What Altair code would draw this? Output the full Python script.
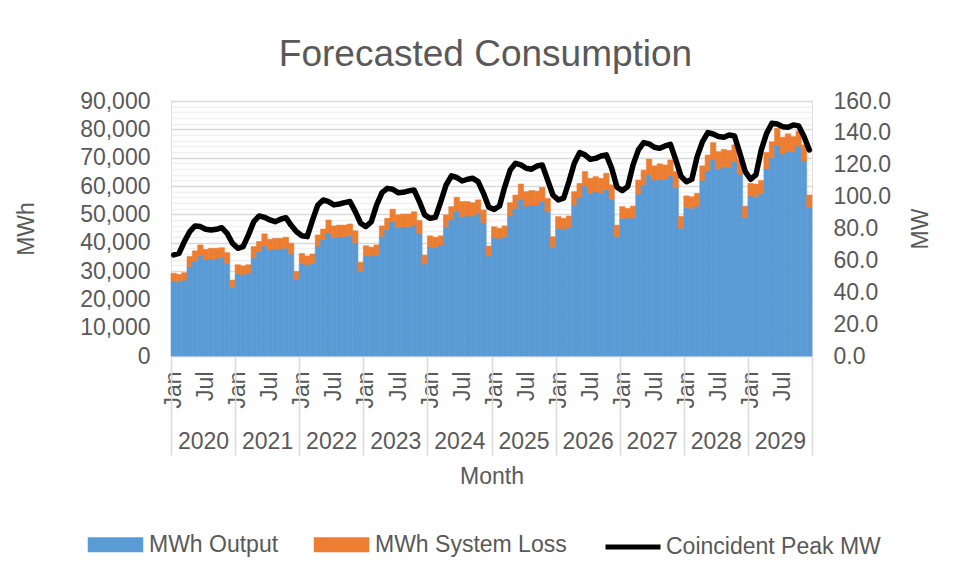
import altair as alt
import pandas as pd

years = [2020, 2021, 2022, 2023, 2024, 2025, 2026, 2027, 2028, 2029]

mwh_output = [
    26500, 26200, 26800, 31500, 33600, 35400, 33900, 34200, 34400, 34800, 32700, 24200,
    29200, 28800, 29400, 34800, 36800, 38900, 37400, 37800, 37800, 38100, 36000, 27100,
    32700, 32100, 32700, 38800, 41200, 43500, 41800, 42100, 42100, 42400, 40000, 30000,
    35300, 35300, 35600, 42100, 44500, 47400, 45300, 45600, 45600, 46200, 43300, 32500,
    38600, 38400, 39200, 45600, 48000, 51200, 49200, 49400, 49400, 50400, 47100, 35300,
    41900, 41500, 42100, 49400, 52100, 55300, 52900, 53300, 53300, 54500, 50900, 38400,
    45100, 44700, 45400, 53300, 56000, 60000, 57400, 58000, 57600, 58800, 55300, 42100,
    48600, 48600, 48900, 57200, 60400, 64100, 62100, 62400, 62400, 63500, 59500, 45100,
    52500, 52100, 52900, 61900, 65400, 69200, 66200, 66800, 66600, 68600, 64200, 48900,
    56500, 56200, 57200, 66200, 70100, 74500, 71300, 72100, 72100, 74100, 68800, 52500,
]

mwh_loss = [
    2700, 2600, 2600, 3600, 3500, 3800, 3700, 3800, 3600, 3400, 3800, 2600,
    3000, 3000, 2800, 3800, 3600, 4200, 3800, 3700, 3700, 3800, 3800, 2700,
    3500, 3200, 3300, 3900, 3600, 4500, 4100, 4100, 4100, 4200, 4200, 3100,
    3600, 3100, 3600, 3800, 4100, 4400, 4500, 4500, 4500, 4700, 4500, 3100,
    3800, 3500, 3200, 4200, 4700, 4800, 5300, 5100, 4700, 4700, 4400, 3500,
    3700, 3600, 3800, 4700, 4700, 5400, 5100, 5100, 4900, 5000, 4700, 3700,
    4100, 3900, 4000, 4700, 4900, 5100, 5300, 5300, 5100, 5700, 5100, 4100,
    4100, 3500, 4000, 4900, 5200, 5400, 5000, 5400, 5000, 5700, 5600, 4100,
    4000, 4100, 4500, 5200, 5500, 6100, 5900, 6100, 5900, 5900, 5200, 4000,
    4400, 4500, 4700, 5600, 5500, 5900, 5900, 6300, 5300, 5300, 5700, 4300,
]

peak_mw = [
    63.4, 64.4, 71.8, 78.0, 81.6, 81.2, 79.5, 79.0, 79.5, 80.5, 77.0, 70.7,
    67.6, 68.6, 76.0, 84.3, 87.9, 87.0, 85.4, 84.3, 85.8, 86.8, 82.0, 78.0,
    75.5, 74.9, 85.4, 94.8, 97.9, 96.9, 94.8, 95.4, 96.2, 96.9, 90.6, 83.3,
    81.2, 84.3, 94.8, 102.5, 105.2, 104.6, 102.5, 102.7, 103.6, 104.2, 96.9, 88.5,
    86.4, 87.0, 96.9, 107.3, 113.0, 112.0, 109.8, 110.9, 111.5, 109.4, 102.1, 93.3,
    92.0, 94.1, 106.3, 116.7, 120.9, 119.9, 117.8, 117.2, 119.2, 119.9, 110.5, 101.0,
    97.9, 99.0, 109.4, 120.9, 127.6, 126.2, 123.4, 124.0, 125.5, 126.2, 117.8, 105.9,
    103.8, 106.3, 119.9, 129.3, 133.9, 133.1, 131.0, 130.3, 131.8, 132.8, 123.0, 112.6,
    109.4, 110.9, 125.1, 134.5, 140.2, 139.3, 137.7, 137.2, 138.7, 138.0, 127.2, 115.7,
    110.9, 113.6, 129.3, 139.7, 146.0, 145.6, 143.9, 143.5, 145.0, 144.4, 137.7, 129.3,
]

series_names = ["MWh Output", "MWh System Loss"]
series_colors = ["#5B9BD5", "#ED7D31"]
line_name = "Coincident Peak MW"

n = len(peak_mw)
rows = []
for i in range(n):
    rows.append({"i": i, "series": series_names[0], "order": 0, "value": mwh_output[i]})
    rows.append({"i": i, "series": series_names[1], "order": 1, "value": mwh_loss[i]})
bars_df = pd.DataFrame(rows)
line_df = pd.DataFrame({"i": list(range(n)), "peak": peak_mw, "name": line_name})

FONT = "Liberation Sans"
TXT = "#595959"
FS = 23

xscale = alt.Scale(domain=[0, n], nice=False, zero=False)

month_ticks = []
for k in range(len(years)):
    month_ticks += [12 * k + 0.5, 12 * k + 6.5]
year_ticks = [12 * k for k in range(len(years) + 1)]

bar_scale = alt.Scale(domain=series_names, range=series_colors)

bars = (
    alt.Chart(bars_df)
    .transform_calculate(x0="datum.i", x1="datum.i + 1")
    .transform_stack(stack="value", groupby=["i"],
                     sort=[alt.SortField("order", order="ascending")],
                     as_=["y0", "y1"])
    .mark_bar(strokeWidth=0.6)
    .encode(
        x=alt.X("x0:Q", scale=xscale, axis=alt.Axis(
            orient="bottom",
            values=month_ticks,
            labelExpr="(datum.value % 12) < 1 ? 'Jan' : 'Jul'",
            labelAngle=270, labelPadding=15, labelFlush=False, labelOverlap=False,
            ticks=False, grid=False, domain=True, domainColor="#D9D9D9", domainWidth=1.5,
            labelFontSize=FS, labelColor=TXT, labelFont=FONT, title=None)),
        x2="x1:Q",
        y=alt.Y("y1:Q", scale=alt.Scale(domain=[0, 90000], nice=False), axis=alt.Axis(
            values=list(range(0, 90001, 2000)),
            labelExpr="datum.value % 10000 === 0 ? format(datum.value, ',') : ''",
            labelOverlap=False, labelPadding=21, ticks=False, domain=False,
            grid=True,
            gridColor={"condition": {"test": "datum.value % 10000 === 0", "value": "#D9D9D9"},
                       "value": "#F0F0F0"},
            gridWidth=1.3,
            labelFontSize=FS, labelColor=TXT, labelFont=FONT,
            title="MWh", titleFontSize=FS, titleColor=TXT, titleFont=FONT,
            titleFontWeight="normal", titleAngle=270, titleBaseline="alphabetic",
            titleX=-138, titleY=127.5)),
        y2="y0:Q",
        color=alt.Color("series:N", scale=bar_scale,
                        legend=alt.Legend(
                            title=None, orient="none", direction="horizontal",
                            legendX=-67, legendY=432,
                            symbolType="M-3.7,-1H3.7V1H-3.7Z", symbolSize=225,
                            symbolStrokeWidth=0, labelOffset=22, columnPadding=34,
                            labelLimit=0,
                            labelFontSize=FS, labelColor=TXT, labelFont=FONT)),
        stroke=alt.Stroke("series:N", scale=bar_scale, legend=None),
    )
)

line = (
    alt.Chart(line_df)
    .transform_calculate(xc="datum.i + 0.5")
    .mark_line(strokeWidth=5.5, strokeJoin="round", strokeCap="round")
    .encode(
        x=alt.X("xc:Q", scale=xscale, axis=alt.Axis(
            orient="bottom",
            values=year_ticks,
            labelExpr="datum.value < 120 ? '' + (2020 + datum.value / 12) : ''",
            labelOffset=32, labelPadding=-14, labelBaseline="middle",
            labelFlush=False, labelOverlap=False,
            ticks=True, tickSize=99, tickColor="#D9D9D9", tickWidth=1.5,
            grid=False, domain=False,
            labelFontSize=FS, labelColor=TXT, labelFont=FONT,
            title="Month", titleFontSize=FS, titleColor=TXT, titleFont=FONT,
            titleFontWeight="normal", titleBaseline="alphabetic", titleY=127)),
        y=alt.Y("peak:Q", scale=alt.Scale(domain=[0, 160], nice=False), axis=alt.Axis(
            orient="right", values=list(range(0, 161, 20)), format=".1f",
            labelPadding=21, ticks=False, domain=False, grid=False,
            labelFontSize=FS, labelColor=TXT, labelFont=FONT,
            title="MW", titleFontSize=FS, titleColor=TXT, titleFont=FONT,
            titleFontWeight="normal", titleAngle=270, titleBaseline="alphabetic",
            titleX=115, titleY=127.5)),
        stroke=alt.Stroke("name:N",
                          scale=alt.Scale(domain=[line_name], range=["#000000"]),
                          legend=alt.Legend(
                              title=None, orient="none", direction="horizontal",
                              legendX=432, legendY=416,
                              symbolType="stroke", symbolSize=3025,
                              symbolStrokeWidth=5, labelOffset=3, labelLimit=0,
                              labelFontSize=FS, labelColor=TXT, labelFont=FONT)),
    )
)

chart = (
    alt.layer(bars, line)
    .resolve_scale(y="independent", color="independent", stroke="independent")
    .resolve_axis(x="independent")
    .properties(
        width=641, height=255,
        autosize=alt.AutoSizeParams(type="none"),
        padding={"left": 163, "top": 93, "right": 137, "bottom": 214},
        title=alt.TitleParams("Forecasted Consumption", fontSize=37, font=FONT,
                              color=TXT, fontWeight="normal", anchor="middle",
                              frame="group", dx=-6, offset=-13, baseline="alphabetic"),
    )
    .configure_view(stroke=None)
    .configure(font=FONT)
)

chart.save("out.html", embed_options={"renderer": "svg", "actions": False})
